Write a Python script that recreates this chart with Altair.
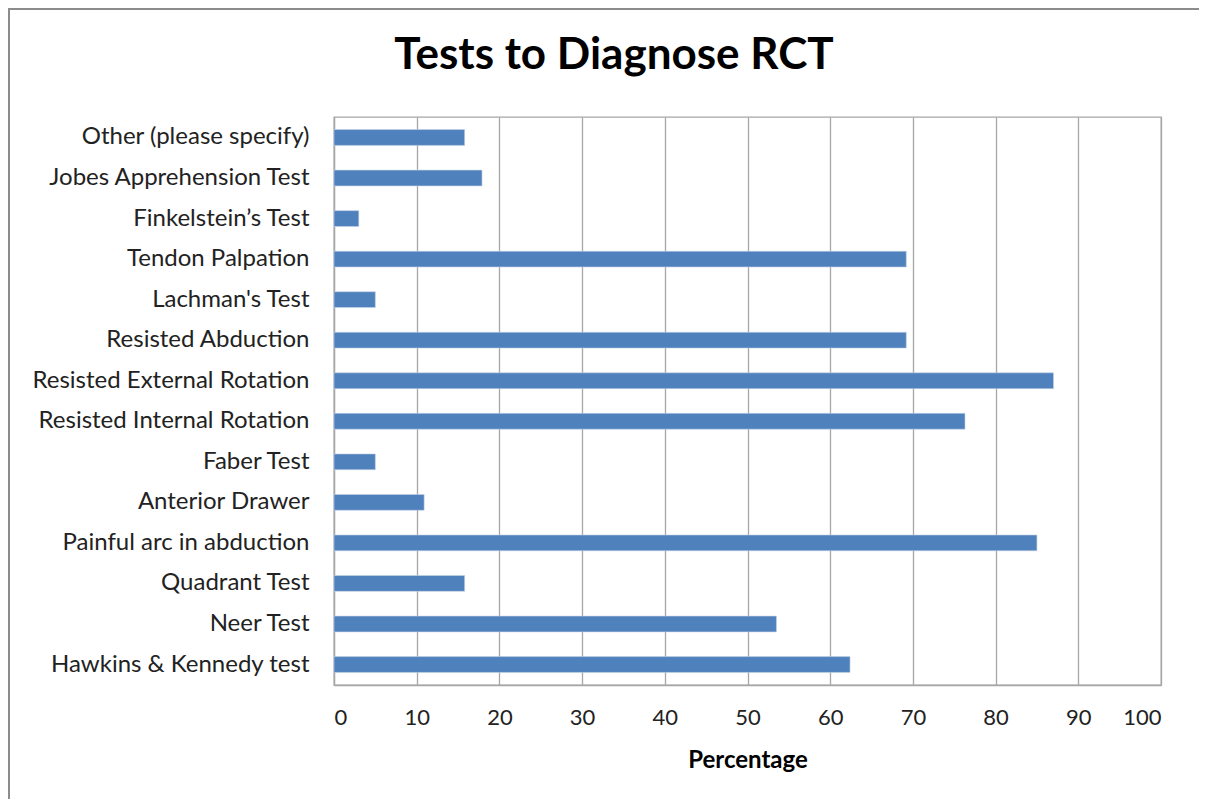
import altair as alt
import pandas as pd

tests = [
    "Other (please specify)",
    "Jobes Apprehension Test",
    "Finkelstein\u2019s Test",
    "Tendon Palpation",
    "Lachman's Test",
    "Resisted Abduction",
    "Resisted External Rotation",
    "Resisted Internal Rotation",
    "Faber Test",
    "Anterior Drawer",
    "Painful arc in abduction",
    "Quadrant Test",
    "Neer Test",
    "Hawkins & Kennedy test",
]
percentages = [15.8, 17.9, 3.0, 69.2, 5.0, 69.2, 87.0, 76.3, 5.0, 10.9, 85.0, 15.8, 53.5, 62.4]
chart_title = "Tests to Diagnose RCT"

df = pd.DataFrame({"test": tests, "pct": percentages})

FONT = "Lato"
W, H = 827, 568

bars = alt.Chart(df).mark_bar(color="#4F81BD", stroke="#C6D4E8", strokeWidth=0.6).encode(
    x=alt.X("pct:Q", title="Percentage",
            scale=alt.Scale(domain=[0, 100], nice=False),
            axis=alt.Axis(values=list(range(0, 101, 10)), grid=True, gridColor="#A6A6A6",
                          gridWidth=1.3, domainColor="#A6A6A6", domainWidth=1.3, ticks=False,
                          labelFont=FONT, labelFontSize=22, labelColor="#222222",
                          labelPadding=22, titleFont=FONT, titleFontSize=24,
                          titleFontWeight="bold", titleColor="#000000", titlePadding=20)),
    y=alt.Y("test:N", sort=tests, title=None,
            scale=alt.Scale(paddingInner=0.61, paddingOuter=0.31),
            axis=alt.Axis(ticks=False, domainColor="#A6A6A6", domainWidth=1.3,
                          labelFont=FONT, labelFontSize=24, labelColor="#222222",
                          labelPadding=25, labelLimit=400)),
)

border = alt.Chart(pd.DataFrame({"a": [0]})).mark_rect(
    fill=None, stroke="#8C8C8C", strokeWidth=2
).encode(
    x=alt.value(-325), x2=alt.value(W + 80),
    y=alt.value(-108), y2=alt.value(H + 160),
)

title_text = alt.Chart(pd.DataFrame({"t": [chart_title]})).mark_text(
    font=FONT, fontSize=44, fontWeight="bold", color="#000000",
    align="center", baseline="alphabetic"
).encode(
    text="t:N", x=alt.value(280), y=alt.value(-48),
)

chart = alt.layer(border, bars, title_text).properties(
    width=W, height=H,
    padding={"left": 326, "top": 109, "right": 38, "bottom": 114},
    autosize=alt.AutoSizeParams(type="none"),
).configure_view(stroke="#A6A6A6", strokeWidth=1.3)

chart.save("out.html", embed_options={"renderer": "svg", "actions": False})
